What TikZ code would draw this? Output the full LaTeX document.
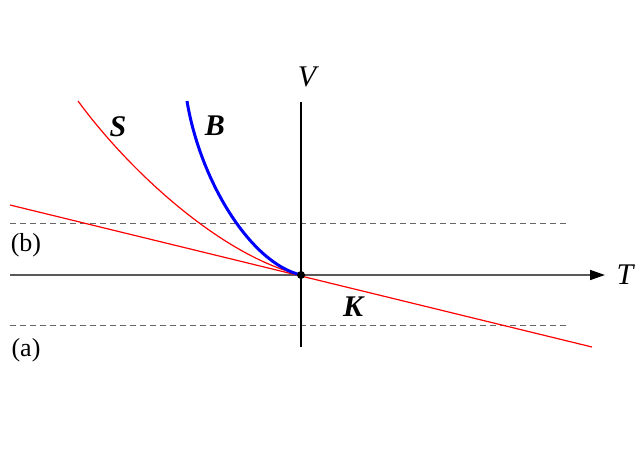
\documentclass[tikz,border=0pt]{standalone}
\usepackage{fontspec}
\setmainfont{Liberation Serif}
\usetikzlibrary{arrows.meta}
\begin{document}
\begin{tikzpicture}[x=1pt,y=-1pt,
  lbl/.style={font=\fontsize{30}{30}\selectfont\bfseries\itshape, inner sep=0pt},
  axlbl/.style={font=\fontsize{30}{30}\selectfont\itshape, inner sep=0pt},
  reg/.style={font=\fontsize{26}{26}\selectfont, inner sep=0pt},
  dash line/.style={draw=black!60, line width=1pt, dash pattern=on 6pt off 4pt},
  redc/.style={draw=red, line width=1.2pt},
  bluec/.style={draw=blue, line width=3pt}]
\useasboundingbox (0,0) rectangle (636,450);
\coordinate (O) at (301,275);
\coordinate (xl) at (10,275);
\coordinate (xr) at (605,275);
\coordinate (vt) at (301,102);
\coordinate (vb) at (301,347);
\coordinate (kl) at (10,205);
\coordinate (kr) at (592,347);
\coordinate (st) at (78,101);
\coordinate (bt) at (187,101);
\coordinate (d1l) at (10,223);
\coordinate (d1r) at (568,223);
\coordinate (d2l) at (10,325);
\coordinate (d2r) at (568,325);
\draw[dash line] (d1l) -- (d1r);
\draw[dash line] (d2l) -- (d2r);
\draw[black!65, line width=1.5pt, -{Triangle[length=15pt,width=10pt,color=black]}] (xl) -- (xr);
\draw[black, line width=1.5pt] (vb) -- (vt);
\draw[redc] (kl) -- (kr);
\draw[redc] (O) .. controls (222,256) and (130,172) .. (st);
\draw[bluec] (O) .. controls (250,263) and (200,180) .. (bt);
\fill (O) circle (4pt);
\node[axlbl] (V) at (307,77) {V};
\node[axlbl] (T) at (625,275) {T};
\node[lbl] (S) at (118,127) {S};
\node[lbl] (B) at (215,126) {B};
\node[lbl] (K) at (353,307) {K};
\node[reg] (b) at (26,245) {(b)};
\node[reg] (a) at (26,350) {(a)};
\end{tikzpicture}
\end{document}
